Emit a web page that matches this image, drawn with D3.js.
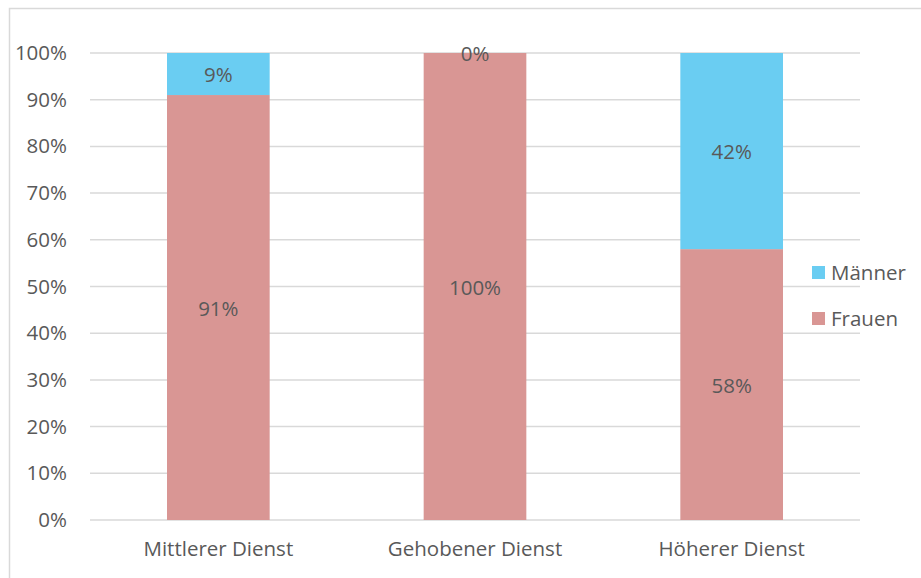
<!DOCTYPE html>
<html lang="de">
<head>
<meta charset="UTF-8">
<title>Dienst</title>
<script src="https://cdnjs.cloudflare.com/ajax/libs/d3/7.8.5/d3.min.js"></script>
<style>
  body { margin: 0; background: #fff; }
  text { font-family: "Open Sans", sans-serif; fill: #595959; }
</style>
</head>
<body>
<script>
    let categories = ["Mittlerer Dienst", "Gehobener Dienst", "Höherer Dienst"]
    let frauen = [0.91, 1.00, 0.58]
    let maenner = [0.09, 0.00, 0.42]
    let seriesNames = ["Frauen", "Männer"]
    let colors = ["#D99694", "#6ACDF2"]
    let yTicks = [0, 0.1, 0.2, 0.3, 0.4, 0.5, 0.6, 0.7, 0.8, 0.9, 1.0]

    let width = 921
    let height = 578
    let fs = 20.5

    let svg = d3.select("body").append("svg")
        .attr("width", width)
        .attr("height", height)

    // chart frame (right and bottom edges fall outside the picture)
    svg.append("rect")
        .attr("x", 9.5).attr("y", 8.5)
        .attr("width", 1000).attr("height", 1000)
        .attr("fill", "none")
        .attr("stroke", "#d9d9d9")
        .attr("stroke-width", 1.5)

    let x = d3.scaleBand().domain(categories).range([90, 860]).paddingInner(0.6).paddingOuter(0.3)
    let y = d3.scaleLinear().domain([0, 1]).range([520, 53])

    // gridlines
    svg.append("g").selectAll("line").data(yTicks).join("line")
        .attr("x1", 90).attr("x2", 860)
        .attr("y1", d => y(d)).attr("y2", d => y(d))
        .attr("stroke", "#d9d9d9")
        .attr("stroke-width", 1.5)

    let table = categories.map((c, i) => ({ cat: c, Frauen: frauen[i], "Männer": maenner[i] }))
    let stack = d3.stack().keys(seriesNames)(table)

    let groups = svg.append("g").selectAll("g").data(stack).join("g")
        .attr("fill", (d, i) => colors[i])

    groups.selectAll("rect").data(d => d).join("rect")
        .attr("x", d => x(d.data.cat))
        .attr("width", x.bandwidth())
        .attr("y", d => y(d[1]))
        .attr("height", d => y(d[0]) - y(d[1]))

    // data labels
    svg.append("g").selectAll("g").data(stack).join("g")
        .selectAll("text").data(d => d).join("text")
        .attr("x", d => x(d.data.cat) + x.bandwidth() / 2)
        .attr("y", d => (y(d[0]) + y(d[1])) / 2 + 1)
        .attr("dy", "0.35em")
        .attr("text-anchor", "middle")
        .attr("font-size", fs)
        .text(d => d3.format(".0%")(d[1] - d[0]))

    // y axis labels
    let yAxis = d3.axisLeft(y).tickValues(yTicks).tickFormat(d3.format(".0%")).tickSize(0).tickPadding(0)
    let ya = svg.append("g").attr("transform", "translate(67,0)").call(yAxis)
    ya.select(".domain").remove()
    ya.selectAll("text").attr("font-size", fs).attr("font-family", "Open Sans").attr("fill", "#595959")

    // x axis labels
    let xAxis = d3.axisBottom(x).tickSize(0).tickPadding(0)
    let xa = svg.append("g").attr("transform", "translate(0,541)").call(xAxis)
    xa.select(".domain").remove()
    xa.selectAll("text").attr("font-size", fs).attr("font-family", "Open Sans").attr("fill", "#595959")

    // legend
    let legendItems = ["Männer", "Frauen"]
    let legend = svg.append("g").selectAll("g").data(legendItems).join("g")
        .attr("transform", (d, i) => `translate(812,${266 + i * 46})`)
    legend.append("rect")
        .attr("width", 13).attr("height", 13)
        .attr("fill", d => colors[seriesNames.indexOf(d)])
    legend.append("text")
        .attr("x", 19).attr("y", 7).attr("dy", "0.35em")
        .attr("font-size", fs)
        .text(d => d)
</script>
</body>
</html>
